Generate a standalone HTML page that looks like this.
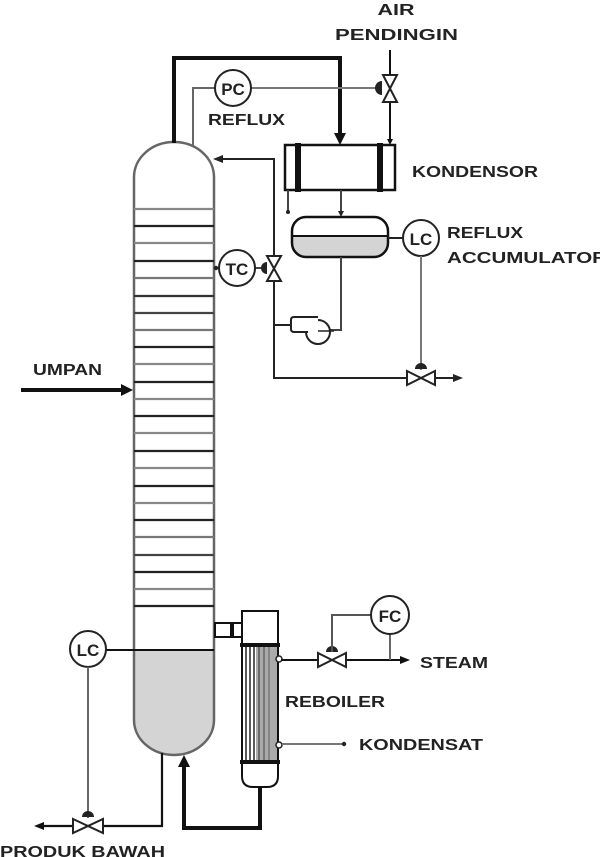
<!DOCTYPE html>
<html>
<head>
<meta charset="utf-8">
<style>
html,body{margin:0;padding:0;background:#fff;}
svg{display:block;}
text{font-family:"Liberation Sans",Arial,sans-serif;font-weight:bold;fill:#222;}
</style>
</head>
<body>
<svg width="600" height="857" viewBox="0 0 600 857" xmlns="http://www.w3.org/2000/svg">
<rect width="600" height="857" fill="#fff"/>

<!-- ===== COLUMN ===== -->
<!-- liquid in bottom -->
<path d="M134,650 L214,650 L214,720 A40,35 0 0 1 134,720 Z" fill="#d4d4d4"/>
<!-- shell -->
<path d="M134,177 A40,35 0 0 1 214,177 L214,720 A40,35 0 0 1 134,720 Z" fill="none" stroke="#666" stroke-width="2.5"/>
<!-- trays -->
<g stroke-width="2.2">
<line x1="134" y1="209" x2="214" y2="209" stroke="#888"/>
<line x1="134" y1="226" x2="214" y2="226" stroke="#222"/>
<line x1="134" y1="243" x2="214" y2="243" stroke="#888"/>
<line x1="134" y1="261" x2="214" y2="261" stroke="#222"/>
<line x1="134" y1="278" x2="214" y2="278" stroke="#777"/>
<line x1="134" y1="296" x2="214" y2="296" stroke="#333"/>
<line x1="134" y1="313" x2="214" y2="313" stroke="#444"/>
<line x1="134" y1="330" x2="214" y2="330" stroke="#777"/>
<line x1="134" y1="347" x2="214" y2="347" stroke="#222"/>
<line x1="134" y1="364" x2="214" y2="364" stroke="#888"/>
<line x1="134" y1="382" x2="214" y2="382" stroke="#222"/>
<line x1="134" y1="399" x2="214" y2="399" stroke="#888"/>
<line x1="134" y1="416" x2="214" y2="416" stroke="#222"/>
<line x1="134" y1="433" x2="214" y2="433" stroke="#888"/>
<line x1="134" y1="451" x2="214" y2="451" stroke="#222"/>
<line x1="134" y1="468" x2="214" y2="468" stroke="#888"/>
<line x1="134" y1="486" x2="214" y2="486" stroke="#222"/>
<line x1="134" y1="503" x2="214" y2="503" stroke="#888"/>
<line x1="134" y1="520" x2="214" y2="520" stroke="#222"/>
<line x1="134" y1="537" x2="214" y2="537" stroke="#777"/>
<line x1="134" y1="555" x2="214" y2="555" stroke="#444"/>
<line x1="134" y1="572" x2="214" y2="572" stroke="#222"/>
<line x1="134" y1="589" x2="214" y2="589" stroke="#888"/>
<line x1="134" y1="606" x2="214" y2="606" stroke="#222"/>
</g>
<!-- level line bottom -->
<line x1="106" y1="650" x2="214" y2="650" stroke="#111" stroke-width="2"/>

<!-- ===== FEED ===== -->
<line x1="21" y1="390" x2="124" y2="390" stroke="#111" stroke-width="4"/>
<polygon points="133,390 121,384 121,396" fill="#111"/>
<text x="33" y="375" font-size="16" textLength="69" lengthAdjust="spacingAndGlyphs">UMPAN</text>

<!-- ===== OVERHEAD VAPOR ===== -->
<polyline points="174,143 174,58 340,58 340,134" fill="none" stroke="#111" stroke-width="4"/>
<polygon points="340,145 334,133 346,133" fill="#111"/>

<!-- PC loop -->
<polyline points="193,146 193,88 215,88" fill="none" stroke="#666" stroke-width="2"/>
<line x1="251" y1="88" x2="376" y2="88" stroke="#777" stroke-width="2"/>
<circle cx="233" cy="88" r="18" fill="#fff" stroke="#222" stroke-width="2"/>
<text x="233" y="95" font-size="17" text-anchor="middle">PC</text>
<text x="208" y="125" font-size="16" textLength="77" lengthAdjust="spacingAndGlyphs">REFLUX</text>
<!-- actuator -->
<path d="M382,81 A7,7 0 0 0 382,95 Z" fill="#222"/>
<!-- cooling water line -->
<line x1="390" y1="50" x2="390" y2="140" stroke="#111" stroke-width="2"/>
<polygon points="390,145 387,139 393,139" fill="#111"/>
<path d="M383,75 L397,102 L383,102 L397,75 Z" fill="#fff" stroke="#222" stroke-width="2"/>
<text x="396" y="15" font-size="16" text-anchor="middle" textLength="37" lengthAdjust="spacingAndGlyphs">AIR</text>
<text x="335" y="40" font-size="16" textLength="123" lengthAdjust="spacingAndGlyphs">PENDINGIN</text>

<!-- ===== CONDENSER ===== -->
<rect x="285" y="145" width="110" height="45" fill="#fff" stroke="#111" stroke-width="2.5"/>
<rect x="295" y="143" width="6" height="49" fill="#111"/>
<rect x="377" y="143" width="6" height="49" fill="#111"/>
<text x="412" y="177" font-size="16" textLength="126" lengthAdjust="spacingAndGlyphs">KONDENSOR</text>
<!-- outlets -->
<line x1="288" y1="190" x2="288" y2="211" stroke="#444" stroke-width="2"/>
<circle cx="288" cy="212" r="2" fill="#222"/>
<line x1="341" y1="190" x2="341" y2="212" stroke="#444" stroke-width="2"/>
<polygon points="341,217 338,211 344,211" fill="#222"/>

<!-- ===== ACCUMULATOR ===== -->
<path d="M292,236 L388,236 L388,243 A14,14 0 0 1 374,257 L306,257 A14,14 0 0 1 292,243 Z" fill="#d4d4d4"/>
<rect x="292" y="217" width="96" height="40" rx="14" ry="14" fill="none" stroke="#111" stroke-width="2.5"/>
<line x1="292" y1="236" x2="388" y2="236" stroke="#111" stroke-width="2"/>
<line x1="388" y1="238" x2="403" y2="238" stroke="#222" stroke-width="2"/>
<circle cx="421" cy="238" r="18" fill="#fff" stroke="#222" stroke-width="2"/>
<text x="421" y="245" font-size="17" text-anchor="middle">LC</text>
<text x="447" y="238" font-size="16" textLength="76" lengthAdjust="spacingAndGlyphs">REFLUX</text>
<text x="447" y="263" font-size="16" textLength="160" lengthAdjust="spacingAndGlyphs">ACCUMULATOR</text>
<!-- LC signal -->
<line x1="421" y1="256" x2="421" y2="370" stroke="#777" stroke-width="2"/>
<path d="M415,369 A6,6 0 0 1 427,369 Z" fill="#222"/>

<!-- reflux / distillate line -->
<polyline points="221,159 274,159 274,378 455,378" fill="none" stroke="#222" stroke-width="2"/>
<polygon points="213,159 223,155 223,163" fill="#222"/>
<polygon points="463,378 453,374 453,382" fill="#222"/>
<path d="M407,371 L435,385 L435,371 L407,385 Z" fill="#fff" stroke="#222" stroke-width="2"/>

<!-- TC -->
<line x1="215" y1="268" x2="219" y2="268" stroke="#222" stroke-width="2"/>
<circle cx="216" cy="268" r="2.2" fill="#222"/>
<line x1="255" y1="268" x2="266" y2="268" stroke="#444" stroke-width="2"/>
<circle cx="237" cy="268" r="18" fill="#fff" stroke="#222" stroke-width="2"/>
<text x="237" y="275" font-size="17" text-anchor="middle">TC</text>
<path d="M267,262 A6,6 0 0 0 267,274 Z" fill="#222"/>
<path d="M267,256 L281,281 L267,281 L281,256 Z" fill="#fff" stroke="#222" stroke-width="2"/>

<!-- pump -->
<line x1="274" y1="325" x2="291" y2="325" stroke="#222" stroke-width="2"/>
<polyline points="341,257 341,330 322,330" fill="none" stroke="#444" stroke-width="2"/>
<circle cx="318" cy="332" r="12" fill="#fff" stroke="#222" stroke-width="2"/>
<path d="M318,317 L294,317 Q291,317 291,320 L291,329 Q291,332 294,332 L308,332" fill="#fff" stroke="#222" stroke-width="2"/>
<path d="M312,320 L318,320" stroke="#fff" stroke-width="3"/>
<line x1="318" y1="331" x2="334" y2="331" stroke="#222" stroke-width="1.5"/>

<!-- ===== BOTTOM LC / PRODUCT ===== -->
<circle cx="88" cy="649" r="18" fill="#fff" stroke="#222" stroke-width="2"/>
<text x="88" y="656" font-size="17" text-anchor="middle">LC</text>
<line x1="88" y1="667" x2="88" y2="818" stroke="#666" stroke-width="2"/>
<path d="M82,817 A6,6 0 0 1 94,817 Z" fill="#222"/>
<polyline points="43,826 162,826 162,753" fill="none" stroke="#111" stroke-width="2.2"/>
<polygon points="34,826 44,822 44,830" fill="#111"/>
<path d="M73,819 L103,833 L103,819 L73,833 Z" fill="#fff" stroke="#222" stroke-width="2"/>
<text x="0" y="857" font-size="16" textLength="165" lengthAdjust="spacingAndGlyphs">PRODUK BAWAH</text>

<!-- reboiler return -->
<polyline points="260,787 260,828 184,828 184,766" fill="none" stroke="#111" stroke-width="4"/>
<polygon points="184,755 178,767 190,767" fill="#111"/>

<!-- ===== REBOILER ===== -->
<rect x="215" y="623" width="27" height="14" fill="#fff" stroke="#111" stroke-width="2"/>
<rect x="230" y="622" width="4" height="16" fill="#111"/>
<rect x="242" y="611" width="36" height="34" fill="#fff" stroke="#111" stroke-width="2"/>
<rect x="256" y="645" width="21" height="117" fill="#aaa"/>
<rect x="242" y="645" width="36" height="117" fill="none" stroke="#111" stroke-width="2"/>
<g stroke="#222" stroke-width="1.5">
<line x1="246" y1="645" x2="246" y2="762"/>
<line x1="250" y1="645" x2="250" y2="762"/>
<line x1="254" y1="645" x2="254" y2="762"/>
<line x1="259" y1="645" x2="259" y2="762" stroke="#555"/>
<line x1="264" y1="645" x2="264" y2="762" stroke="#666"/>
<line x1="269" y1="645" x2="269" y2="762" stroke="#777"/>
</g>
<path d="M242,762 L242,776 Q242,787 253,787 L267,787 Q278,787 278,776 L278,762" fill="#fff" stroke="#111" stroke-width="2"/>
<rect x="240" y="643" width="40" height="4" fill="#111"/>
<rect x="240" y="760" width="40" height="4" fill="#111"/>
<circle cx="279" cy="659" r="3" fill="#fff" stroke="#222" stroke-width="1.5"/>
<circle cx="279" cy="745" r="3" fill="#fff" stroke="#222" stroke-width="1.5"/>
<text x="285" y="707" font-size="16" textLength="100" lengthAdjust="spacingAndGlyphs">REBOILER</text>

<!-- steam -->
<line x1="281" y1="660" x2="402" y2="660" stroke="#111" stroke-width="2"/>
<polygon points="410,660 400,656 400,664" fill="#111"/>
<path d="M318,653 L346,667 L346,653 L318,667 Z" fill="#fff" stroke="#222" stroke-width="2"/>
<path d="M326,652 A6,6 0 0 1 338,652 Z" fill="#222"/>
<polyline points="332,652 332,615 371,615" fill="none" stroke="#555" stroke-width="2"/>
<line x1="390" y1="634" x2="390" y2="660" stroke="#666" stroke-width="2"/>
<circle cx="390" cy="615" r="19" fill="#fff" stroke="#222" stroke-width="2"/>
<text x="390" y="622" font-size="17" text-anchor="middle">FC</text>
<text x="420" y="668" font-size="16" textLength="68" lengthAdjust="spacingAndGlyphs">STEAM</text>

<!-- kondensat -->
<line x1="282" y1="744" x2="343" y2="744" stroke="#777" stroke-width="2"/>
<circle cx="344" cy="744" r="2.2" fill="#222"/>
<text x="359" y="750" font-size="16" textLength="124" lengthAdjust="spacingAndGlyphs">KONDENSAT</text>
</svg>
</body>
</html>
